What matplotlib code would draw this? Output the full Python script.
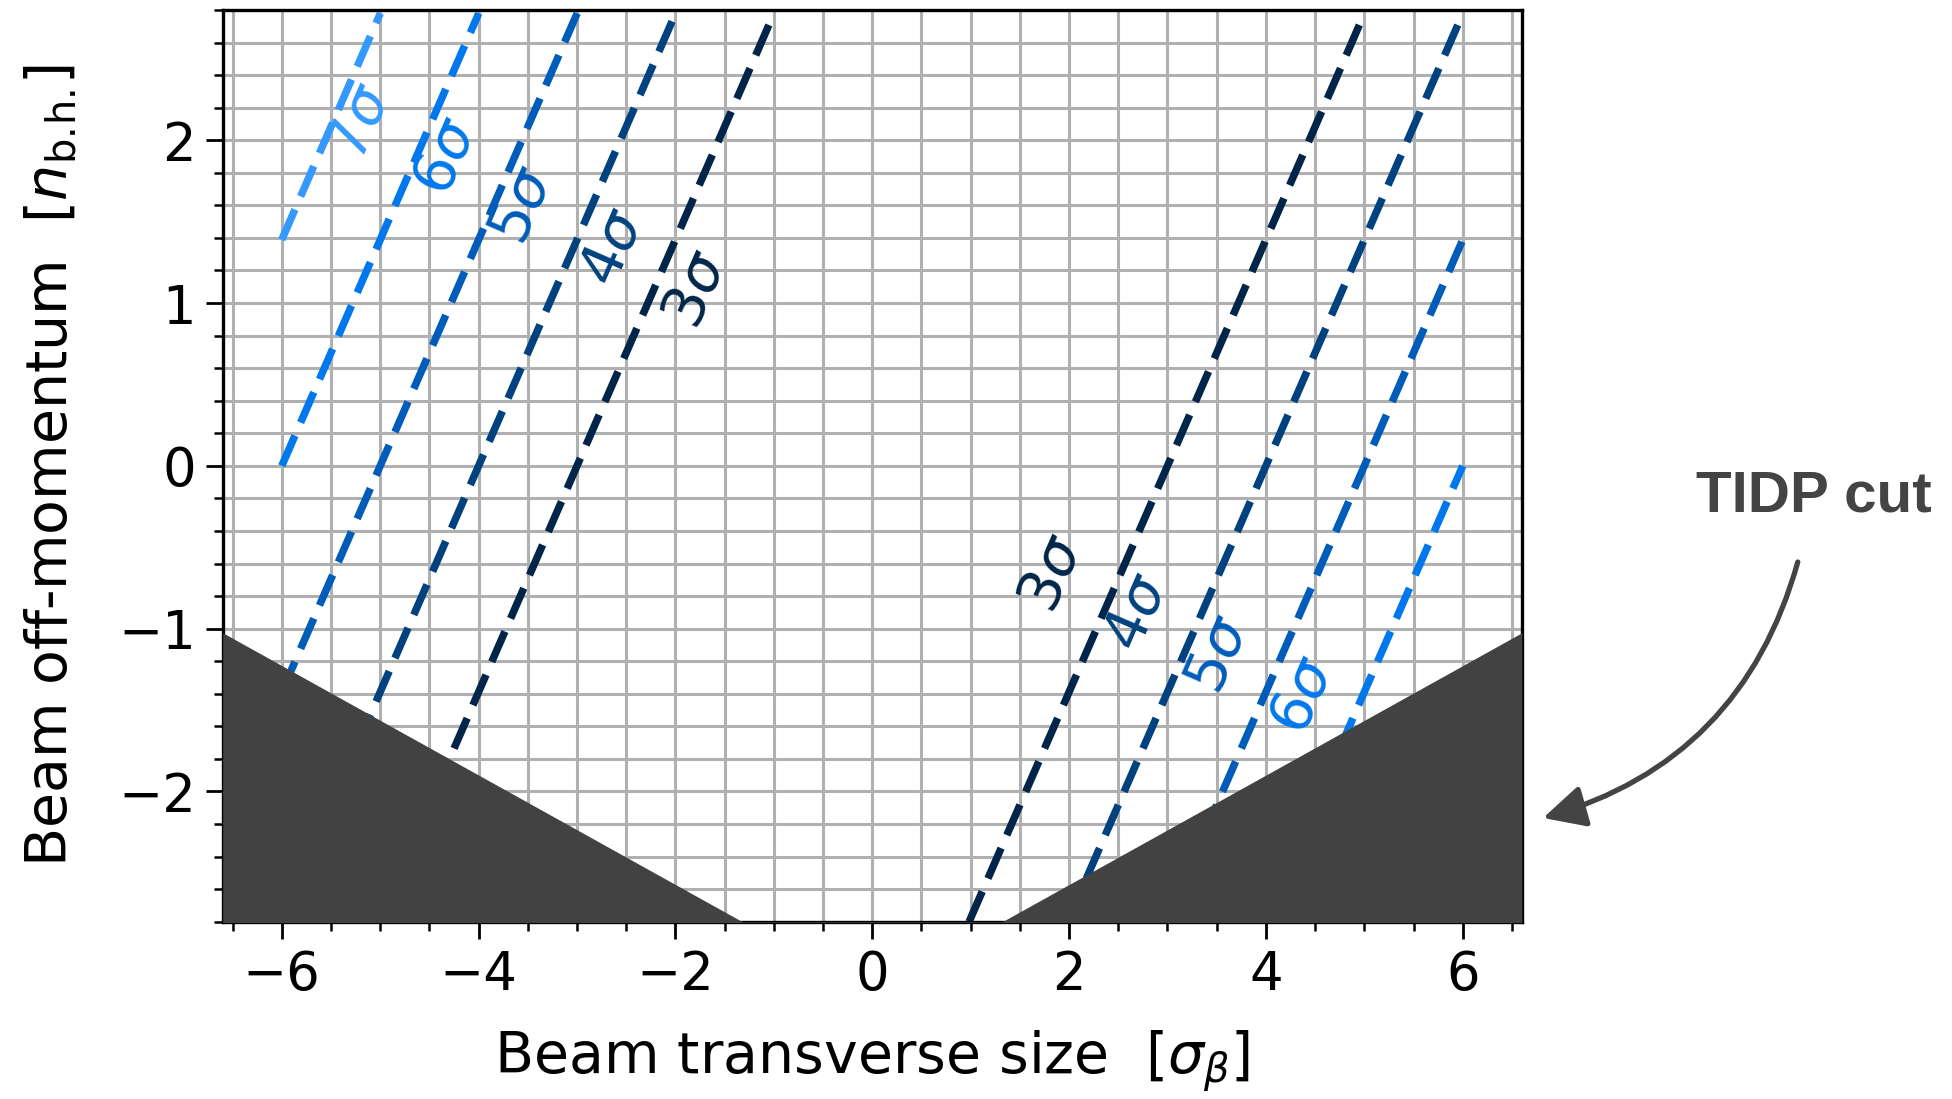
import numpy as np
import matplotlib.pyplot as plt
from matplotlib.ticker import MultipleLocator

# beam envelopes: x = +/- n*sigma + D * delta
sigma_levels = [3, 4, 5, 6, 7]
sigma_colors = ['#002548', '#00427f', '#005cba', '#0078ed', '#3399ff']
dispersion = 0.72          # sigma_beta per n_b.h.
x_max = 6.0                # envelopes only drawn inside |x| <= 6
y_top = 2.78

# label anchors (x, y) for each envelope
left_labels = {7: (-5.20, 2.11), 6: (-4.33, 1.90), 5: (-3.55, 1.60),
               4: (-2.63, 1.34), 3: (-1.78, 1.08)}
right_labels = {3: (1.83, -0.66), 4: (2.70, -0.90), 5: (3.52, -1.16),
                6: (4.38, -1.41)}

# TIDP cut boundary
cut_x = [-6.6, -1.32, 1.32, 6.6]
cut_y = [-1.025, -2.8, -2.8, -1.025]

xlim = (-6.6, 6.6)
ylim = (-2.8, 2.8)

fig = plt.figure(figsize=(9.76, 5.495), dpi=200)
ax = fig.add_axes([0.1141, 0.1613, 0.7796 - 0.1141, 0.9909 - 0.1613])
ax.set_xlim(*xlim)
ax.set_ylim(*ylim)

ax.xaxis.set_major_locator(MultipleLocator(2))
ax.xaxis.set_minor_locator(MultipleLocator(0.5))
ax.yaxis.set_major_locator(MultipleLocator(1))
ax.yaxis.set_minor_locator(MultipleLocator(0.2))
ax.grid(which='both', color='#b0b0b0', lw=1.1, zorder=0)
ax.set_axisbelow(True)

ax.tick_params(which='major', length=6.2, width=1.0, labelsize=19)
ax.tick_params(which='minor', length=3.3, width=0.9)
for sp in ax.spines.values():
    sp.set_linewidth(1.2)

# angle of the envelope lines on screen
p0 = ax.transData.transform((0, 0))
p1 = ax.transData.transform((dispersion, 1))
angle = np.degrees(np.arctan2(p1[1] - p0[1], p1[0] - p0[0]))

for n, c in zip(sigma_levels, sigma_colors):
    for side in (-1, 1):
        off = side * n
        y_lo = max(ylim[0], (-x_max - off) / dispersion)
        y_hi = min(y_top, (x_max - off) / dispersion)
        if y_lo >= y_hi:
            continue
        yy = np.array([y_lo, y_hi])
        ax.plot(off + dispersion * yy, yy, color=c, lw=2.7,
                ls=(0, (4.4, 1.9)), zorder=2)
    for pos in (left_labels.get(n), right_labels.get(n)):
        if pos is None:
            continue
        ax.text(pos[0], pos[1], f'{n}$\\sigma$', color=c, fontsize=21,
                rotation=angle, ha='center', va='center', zorder=3)

ax.fill_between(cut_x, cut_y, -3.0, color='#424242', lw=0, zorder=4)

ax.set_xlabel(r'Beam transverse size  [$\sigma_\beta$]', fontsize=20.5,
              labelpad=10)
ax.set_ylabel(r'Beam off-momentum  [$n_{\rm b.\!h.\!}$]', fontsize=20.5,
              labelpad=14)

fig.text(0.929, 0.548, 'TIDP cut', fontsize=21, fontweight='bold',
         family='Liberation Sans', color='#444444', ha='center', va='center')
ax.annotate('', xy=(0.7905, 0.2557), xytext=(0.921, 0.4886),
            xycoords='figure fraction', textcoords='figure fraction',
            arrowprops=dict(arrowstyle='-|>', connectionstyle='arc3,rad=-0.28',
                            color='#444444', lw=1.9, mutation_scale=32,
                            shrinkA=0, shrinkB=0))

fig.savefig('out.png', dpi=200)
